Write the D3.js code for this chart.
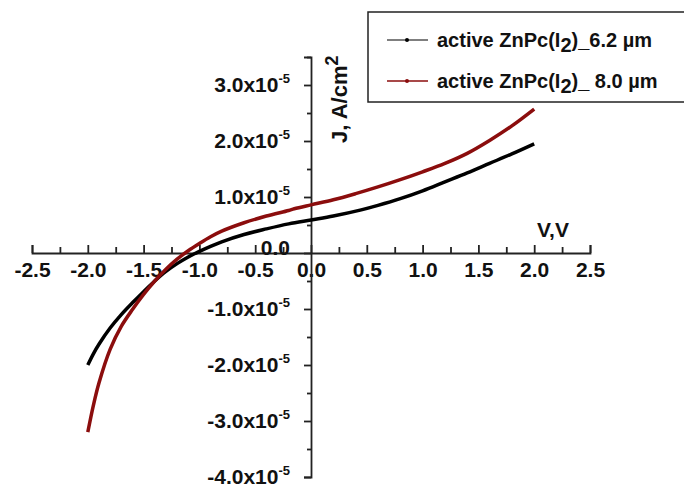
<!DOCTYPE html>
<html>
<head>
<meta charset="utf-8">
<script src="https://cdn.jsdelivr.net/npm/d3@7"></script>
<style>
  body { margin: 0; background: #fff; }
  text { font-family: Arial, "Liberation Sans", sans-serif; font-weight: bold; fill: #111; }
</style>
</head>
<body>
<script>
// J-V data, J in units of 1e-5 A/cm2
const voltsBlack = [-2.0, -1.95, -1.9, -1.8, -1.7, -1.6, -1.5, -1.4, -1.3, -1.2, -1.1, -1.0, -0.9, -0.8, -0.6, -0.4, -0.2, 0.0, 0.2, 0.45, 0.6, 0.8, 1.0, 1.2, 1.4, 1.6, 1.8, 2.0];
const currBlack = [-2.0, -1.8, -1.63, -1.34, -1.1, -0.89, -0.69, -0.5, -0.33, -0.19, -0.07, 0.03, 0.12, 0.2, 0.33, 0.43, 0.52, 0.59, 0.66, 0.77, 0.85, 0.97, 1.11, 1.27, 1.43, 1.6, 1.77, 1.95];
const voltsRed = [-2.0, -1.95, -1.9, -1.8, -1.7, -1.6, -1.5, -1.4, -1.3, -1.2, -1.1, -1.0, -0.9, -0.8, -0.6, -0.4, -0.2, -0.15, 0.0, 0.2, 0.4, 0.6, 0.8, 1.0, 1.2, 1.4, 1.6, 1.8, 2.0];
const currRed = [-3.2, -2.72, -2.32, -1.72, -1.31, -1.01, -0.74, -0.5, -0.29, -0.11, 0.04, 0.17, 0.29, 0.39, 0.54, 0.66, 0.76, 0.79, 0.86, 0.95, 1.06, 1.18, 1.31, 1.45, 1.6, 1.78, 2.01, 2.27, 2.57];
const seriesNames = ["6.2 \u00b5m", " 8.0 \u00b5m"];
const xTicks = [-2.5, -2.0, -1.5, -1.0, -0.5, 0.0, 0.5, 1.0, 1.5, 2.0, 2.5];
const yTicks = [-4, -3, -2, -1, 0, 1, 2, 3];

const width = 684, height = 485;
const svg = d3.select('body').append('svg')
  .attr('width', width).attr('height', height);

const x = d3.scaleLinear().domain([-2.5, 2.5]).range([32, 590]);
const y = d3.scaleLinear().domain([-4, 3.5]).range([477, 57]);

// x axis through y=0, ticks pointing up
const xAxis = svg.append('g')
  .attr('transform', `translate(0,${y(0)})`)
  .call(d3.axisBottom(x).tickValues(xTicks).tickSize(-8).tickPadding(9)
    .tickFormat(d3.format('.1f')));
svg.append('g')
  .attr('transform', `translate(0,${y(0)})`)
  .call(d3.axisBottom(x).tickValues(d3.range(-2.25, 2.5, 0.5)).tickSize(-6).tickFormat(''))
  .call(g => g.select('.domain').remove());
xAxis.selectAll('.tick text')
  .style('font-size', '21px').attr('fill', '#111')
  .text(d => d3.format('.1f')(d).replace('\u2212', '-'));

// y axis through x=0, ticks pointing left
const yAxis = svg.append('g')
  .attr('transform', `translate(${x(0)},0)`)
  .call(d3.axisLeft(y).tickValues(yTicks).tickSize(7).tickPadding(14).tickFormat(''));
svg.append('g')
  .attr('transform', `translate(${x(0)},0)`)
  .call(d3.axisLeft(y).tickValues(d3.range(-3.5, 3.6, 1)).tickSize(4).tickFormat(''))
  .call(g => g.select('.domain').remove());

yAxis.selectAll('.tick text').each(function(d) {
  const t = d3.select(this).style('font-size', '21px').attr('fill', '#111');
  if (d === 0) {
    t.attr('dy', '0.05em').text('0.0');
    return;
  }
  t.append('tspan').text(d3.format('.1f')(d).replace('\u2212', '-') + 'x10');
  t.append('tspan').attr('dy', '-9').style('font-size', '13px').text('-5');
});

svg.selectAll('.domain, .tick line').attr('stroke', '#222').attr('stroke-width', 1.8);

// axis titles
svg.append('text').attr('x', 537).attr('y', 237).style('font-size', '21px').text('V,V');
const yl = svg.append('text')
  .attr('transform', 'translate(347,143) rotate(-90)')
  .style('font-size', '22px');
yl.append('tspan').text('J, A/cm');
yl.append('tspan').attr('dy', -9).style('font-size', '18px').text('2');

// curves
const line = d3.line().x(d => x(d[0])).y(d => y(d[1])).curve(d3.curveCatmullRom.alpha(0.5));
const series = [
  { v: voltsBlack, j: currBlack, color: '#000000' },
  { v: voltsRed, j: currRed, color: '#8b0d0d' }
];
series.forEach(s => {
  svg.append('path')
    .datum(d3.zip(s.v, s.j))
    .attr('d', line)
    .attr('fill', 'none')
    .attr('stroke', s.color)
    .attr('stroke-width', 3.5)
    .attr('stroke-linejoin', 'round');
});

// legend
const lg = svg.append('g');
lg.append('rect').attr('x', 368).attr('y', 12).attr('width', 340).attr('height', 90)
  .attr('fill', '#fff').attr('stroke', '#222').attr('stroke-width', 1.5);
series.forEach((s, i) => {
  const cy = 40 + i * 41;
  lg.append('line').attr('x1', 387).attr('x2', 428).attr('y1', cy).attr('y2', cy)
    .attr('stroke', i === 0 ? '#555' : s.color).attr('stroke-width', 1.3);
  lg.append('circle').attr('cx', 407).attr('cy', cy).attr('r', 2).attr('fill', s.color);
  const t = lg.append('text').attr('x', 437).attr('y', cy + 7).style('font-size', '20px');
  t.append('tspan').text('active ZnPc(I');
  t.append('tspan').attr('dy', 5).style('font-size', '20px').text('2');
  t.append('tspan').attr('dy', -5).text(')_' + seriesNames[i]);
});
</script>
</body>
</html>
